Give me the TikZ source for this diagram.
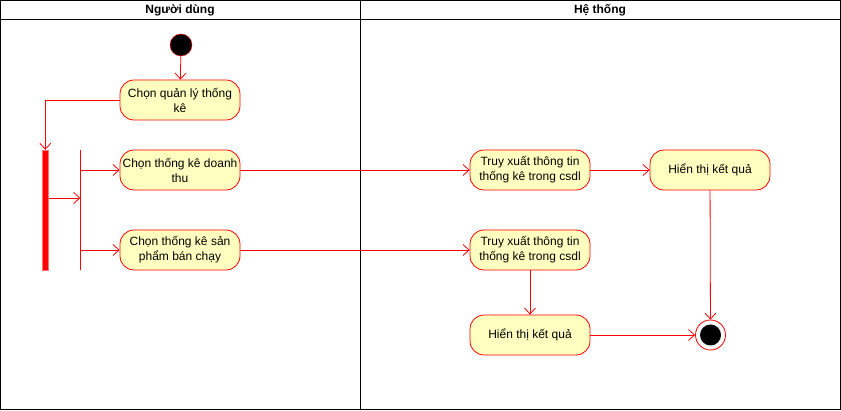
\documentclass[tikz,border=0pt]{standalone}
\usepackage{fontspec}
\setmainfont{Liberation Sans}
\usetikzlibrary{arrows.meta}
\definecolor{actfill}{HTML}{FFFFC0}
\begin{document}
\begin{tikzpicture}[x=1pt,y=-1pt,
  act/.style={draw=red,line width=0.8pt,fill=actfill,rounded corners=14pt,minimum width=120pt,minimum height=40pt,
    inner sep=1pt,align=center,font=\fontsize{12}{15}\selectfont},
  flow/.style={draw=red,line width=0.8pt,-{Straight Barb[length=6pt,width=11pt]}},
  lane/.style={font=\bfseries\fontsize{12}{14}\selectfont}]
\useasboundingbox (0,0) rectangle (841,411);
\draw[line width=1pt] (0.5,0.5) rectangle (840,409.5);
\draw[line width=1pt] (0.5,20) -- (840,20);
\draw[line width=1pt] (360,0.5) -- (360,409.5);
\node[lane] (u) at (180,10) {Người dùng};
\node[lane] (h) at (600,10) {Hệ thống};

\node[draw=red,fill=black,circle,minimum size=22pt,inner sep=0pt] (start) at (181,45) {};
\node[act] (a) at (180,100) {Chọn quản lý thống\\kê};
\node[draw=red!55,fill=red,minimum width=6pt,minimum height=120pt,inner sep=0pt] (fork) at (45.3,210) {};
\coordinate (bar1) at (80.3,150);
\coordinate (bar2) at (80.3,270);
\coordinate (j) at (80.3,198);
\coordinate (j1) at (80.3,170);
\coordinate (j2) at (80.3,250);
\node[act] (b) at (180,170) {Chọn thống kê doanh\\thu};
\node[act] (c) at (180,250) {Chọn thống kê sản\\phẩm bán chạy};

\node[act] (d) at (530,170) {Truy xuất thông tin\\thống kê trong csdl};
\node[act] (e) at (710,170) {Hiển thị kết quả};
\node[act] (f) at (530,250) {Truy xuất thông tin\\thống kê trong csdl};
\node[act] (g) at (530,335) {Hiển thị kết quả};
\node[draw=red,fill=white,circle,minimum size=30pt,inner sep=0pt,line width=0.8pt] (stop) at (710.5,335) {};
\node[fill=black,circle,minimum size=21pt,inner sep=0pt] (stopin) at (stop) {};

\path[flow] (start) -- (a);
\path[flow] (a.west) -| (fork.north);
\path[draw=red,line width=0.8pt] (bar1) -- (bar2);
\path[flow] (fork.east |- j) -- (j);
\path[flow] (j1) -- (b.west);
\path[flow] (j2) -- (c.west);
\path[flow] (b) -- (d);
\path[flow] (c) -- (f);
\path[flow] (d) -- (e);
\path[flow] (f) -- (g);
\path[flow] (e) -- (stop);
\path[flow] (g) -- (stop);
\end{tikzpicture}
\end{document}
